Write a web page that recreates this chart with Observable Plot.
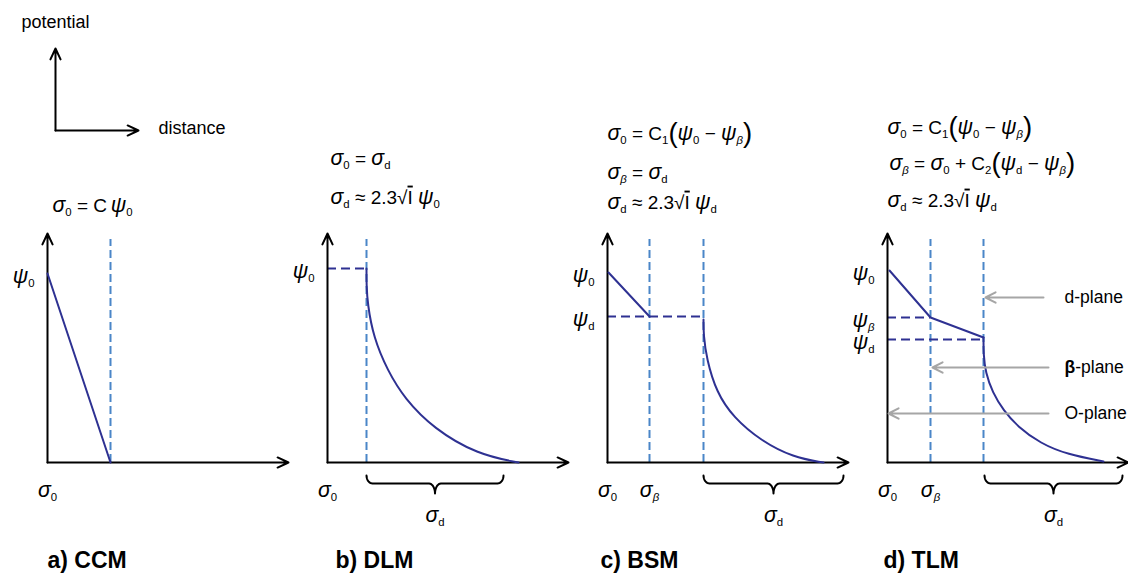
<!DOCTYPE html>
<html><head><meta charset="utf-8">
<script src="https://cdn.jsdelivr.net/npm/d3@7"></script>
<script src="https://cdn.jsdelivr.net/npm/@observablehq/plot@0.6"></script>
<style>body{margin:0;background:#fff}</style>
</head><body><div id="chart"></div>
<script>
// ---- panels ----
const panels = ["a", "b", "c", "d"];
const captions = ["a) CCM", "b) DLM", "c) BSM", "d) TLM"];

// ---- potential profiles: [distance, potential] ----
const ccmLine = [[0, 189], [63, 0]];
const dlmCurve = [[39, 194], [39, 178], [40, 159], [46, 125], [60, 92], [77, 64], [106, 34], [150, 8], [191, 0]];
const bsmLine = [[1, 190], [42, 146]];
const bsmCurve = [[96, 143], [96, 128], [99, 104], [109, 70], [126, 45], [153, 22], [186, 5], [216, 0]];
const tlmLine = [[2, 192], [43, 145], [96, 125]];
const tlmCurve = [[96, 125], [96, 108], [98, 90], [105, 70], [116, 52], [130, 36], [153, 19], [180, 8], [216, 1]];

// plane positions (distance) per panel
const planeA = [63];
const planeB = [39];
const planeC = [42, 96];
const planeD = [43, 96];

// potential levels (dashed)
const levelPanels = ["b", "c", "d", "d"];
const levelValues = [194, 146, 145, 123];
const levelReach = [39, 96, 43, 96];

// potential labels
const psiPanels = ["a", "b", "c", "c", "d", "d", "d"];
const psiLabels = ["ψ_0", "ψ_0", "ψ_0", "ψ_d", "ψ_0", "ψ_β", "ψ_d"];
const psiValues = [189, 194, 190, 146, 192, 145, 123];

// distance labels
const sigPanels = ["a", "b", "c", "c", "d", "d"];
const sigLabels = ["σ_0", "σ_0", "σ_0", "σ_β", "σ_0", "σ_β"];
const sigValues = [0, 0, 0, 42, 0, 43];

// diffuse layer braces [from, to]
const bracePanels = ["b", "c", "d"];
const braceFrom = [39, 96, 97];
const braceTo = [176, 236, 235];

// equations
const eqPanels = ["a", "b", "b", "c", "c", "c", "d", "d", "d"];
const eqTexts = [
  "σ_0 = C\u2009ψ_0",
  "σ_0 = σ_d",
  "σ_d ≈ 2.3√I ψ_0",
  "σ_0 = C_1(ψ_0 − ψ_β)",
  "σ_β = σ_d",
  "σ_d ≈ 2.3√I ψ_d",
  "σ_0 = C_1(ψ_0 − ψ_β)",
  "σ_β = σ_0 + C_2(ψ_d − ψ_β)",
  "σ_d ≈ 2.3√I ψ_d"
];
const eqX = [5, 3, 3, 0, 0, 0, 0, 2, 0];
const eqY = [257, 304, 265, 329, 290, 260, 335, 299, 262];

// TLM planes
const planeNames = ["d-plane", "^β-plane", "O-plane"];
const planeLevel = [165, 95, 49];
const planeArrowFrom = [156, 161, 161];
const planeArrowTo = [98, 45, 1];

// ---- build tables ----
const pts = (panel, seg, arr) => arr.map(([d, p]) => ({panel, seg, d, p}));
const straight = [...pts("a", "a", ccmLine), ...pts("c", "c", bsmLine), ...pts("d", "d", tlmLine)];
const curves = [...pts("b", "b", dlmCurve), ...pts("c", "c", bsmCurve), ...pts("d", "d", tlmCurve)];
const planes = [
  ...planeA.map(d => ({panel: "a", d})), ...planeB.map(d => ({panel: "b", d})),
  ...planeC.map(d => ({panel: "c", d})), ...planeD.map(d => ({panel: "d", d}))
];
const levels = levelPanels.map((panel, i) => ({panel, p: levelValues[i], reach: levelReach[i]}));
const psi = psiPanels.map((panel, i) => ({panel, s: psiLabels[i], p: psiValues[i]}));
const sig = sigPanels.map((panel, i) => ({panel, s: sigLabels[i], d: sigValues[i]}));
const eqs = eqPanels.map((panel, i) => ({panel, s: eqTexts[i], d: eqX[i], p: eqY[i]}));
const capX = [0, 8, -7, -4];
const caps = panels.map((panel, i) => ({panel, s: captions[i], d: capX[i]}));
const AX = 241, AY = 229;
const axes = panels.flatMap(panel => [
  {panel, x1: 0, y1: 0, x2: 0, y2: AY},
  {panel, x1: 0, y1: 0, x2: AX, y2: 0}
]);
const legendArrows = [
  {panel: "a", x1: 8, y1: 332, x2: 8, y2: 414},
  {panel: "a", x1: 8, y1: 332, x2: 91, y2: 332}
];
const legendText = [
  {panel: "a", s: "potential", d: -26, p: 440},
  {panel: "a", s: "distance", d: 111, p: 334}
];
const tlmPlanes = planeNames.map((s, i) => ({panel: "d", s, p: planeLevel[i], from: planeArrowFrom[i], to: planeArrowTo[i]}));

// brace glyph
function brace(panel, x1, x2) {
  const top = -13, mid = -21, tip = -31, r = 6, N = 8, xm = (x1 + x2) / 2, out = [];
  const arc = (cx, cy, rx, ry, a0, a1) => {
    for (let k = 0; k <= N; k++) {
      const t = a0 + (a1 - a0) * k / N;
      out.push({panel, seg: panel + x1, d: cx + rx * Math.cos(t), p: cy + ry * Math.sin(t)});
    }
  };
  arc(x1 + r, top, r, top - mid, Math.PI, 1.5 * Math.PI);
  arc(xm - r, tip, r, mid - tip, 0.5 * Math.PI, 0);
  arc(xm + r, tip, r, mid - tip, Math.PI, 0.5 * Math.PI);
  arc(x2 - r, top, r, top - mid, 1.5 * Math.PI, 2 * Math.PI);
  return out;
}
const braces = bracePanels.flatMap((panel, i) => brace(panel, braceFrom[i], braceTo[i]));
const braceLabels = bracePanels.map((panel, i) => ({panel, s: "σ_d", d: (braceFrom[i] + braceTo[i]) / 2}));

const NAVY = "#2e3192", BLUE = "#4a86c8", GRAY = "#a6a6a6";

const chart = Plot.plot({
  width: 1128, height: 573,
  marginTop: 0, marginBottom: 0, marginLeft: 0, marginRight: 8,
  fx: {domain: panels, padding: 0, axis: null},
  x: {domain: [-47, 233], axis: null},
  y: {domain: [-111, 462], axis: null},
  style: {fontFamily: "'Liberation Sans', Arial, sans-serif", background: "#fff", color: "#000"},
  marks: [
    Plot.ruleX(planes, {fx: "panel", x: "d", y1: 0, y2: 223, stroke: BLUE, strokeWidth: 2, strokeDasharray: "8,4"}),
    Plot.ruleY(levels, {fx: "panel", y: "p", x1: 0, x2: "reach", stroke: NAVY, strokeWidth: 1.8, strokeDasharray: "9,5"}),
    Plot.arrow(axes, {fx: "panel", x1: "x1", y1: "y1", x2: "x2", y2: "y2", stroke: "#000", strokeWidth: 2, headLength: 9, headAngle: 50}),
    Plot.arrow(legendArrows, {fx: "panel", x1: "x1", y1: "y1", x2: "x2", y2: "y2", stroke: "#000", strokeWidth: 2, headLength: 9, headAngle: 50}),
    Plot.line(straight, {fx: "panel", x: "d", y: "p", z: "seg", stroke: NAVY, strokeWidth: 2}),
    Plot.line(curves, {fx: "panel", x: "d", y: "p", z: "seg", stroke: NAVY, strokeWidth: 2, curve: "basis"}),
    Plot.line(braces, {fx: "panel", x: "d", y: "p", z: "seg", stroke: "#000", strokeWidth: 2}),
    Plot.arrow(tlmPlanes, {fx: "panel", x1: "from", x2: "to", y1: "p", y2: "p", stroke: GRAY, strokeWidth: 2, headLength: 8.5, headAngle: 55}),
    Plot.text(tlmPlanes, {fx: "panel", x: 177, y: "p", text: "s", textAnchor: "start", fontSize: 17.5}),
    Plot.text(legendText, {fx: "panel", x: "d", y: "p", text: "s", textAnchor: "start", fontSize: 18}),
    Plot.text(eqs, {fx: "panel", x: "d", y: "p", text: "s", textAnchor: "start", fontSize: 19}),
    Plot.text(psi, {fx: "panel", x: -13, y: d => d.p - 3, text: "s", textAnchor: "end", fontSize: 19}),
    Plot.text(sig, {fx: "panel", x: "d", y: -28, text: "s", textAnchor: "middle", fontSize: 19}),
    Plot.text(braceLabels, {fx: "panel", x: "d", y: -53, text: "s", textAnchor: "middle", fontSize: 19}),
    Plot.text(caps, {fx: "panel", x: "d", y: -98, text: "s", textAnchor: "start", fontSize: 23, fontWeight: "bold"})
  ]
});

// ---- rich text: subscripts, italic Greek, bold marker, big parentheses, radical bar ----
const greek = /[σψβ]/;
function rich(el) {
  const s = el.textContent;
  if (!/[_^√]/.test(s)) return;
  const toks = [];
  for (let i = 0; i < s.length;) {
    const c = s[i];
    if (c === "_") {
      let grp;
      if (s[i + 1] === "{") { const j = s.indexOf("}", i); grp = s.slice(i + 2, j); i = j + 1; }
      else { grp = s[i + 1]; i += 2; }
      for (const g of grp) toks.push({ch: g, sub: true, it: greek.test(g)});
    } else if (c === "^") {
      toks.push({ch: s[i + 1], bold: true}); i += 2;
    } else {
      toks.push({ch: c, it: greek.test(c), gk: greek.test(c), paren: c === "(" || c === ")", over: s[i - 1] === "√"}); i++;
    }
  }
  const groups = [];
  for (const t of toks) {
    const key = [t.sub, t.it, t.bold, t.paren, t.over, t.gk].map(Boolean).join();
    const last = groups[groups.length - 1];
    if (last && last.key === key && !t.paren) last.text += t.ch;
    else groups.push({...t, key, text: t.ch});
  }
  el.textContent = "";
  let shift = 0;
  for (const g of groups) {
    const scale = g.sub ? 0.6 : g.paren ? 1.45 : g.gk ? 1.12 : 1;
    const target = g.sub ? 0.25 : g.paren ? 0.12 : 0;
    const ts = document.createElementNS("http://www.w3.org/2000/svg", "tspan");
    if (scale !== 1) ts.setAttribute("font-size", `${scale * 100}%`);
    const dy = (target - shift) / scale;
    if (Math.abs(dy) > 1e-6) ts.setAttribute("dy", `${dy.toFixed(3)}em`);
    shift = target;
    if (g.it) ts.setAttribute("font-style", "italic");
    if (g.bold) ts.setAttribute("font-weight", "bold");
    if (g.over) ts.setAttribute("text-decoration", "overline");
    ts.textContent = g.text;
    el.appendChild(ts);
  }
}
chart.querySelectorAll("text").forEach(rich);
document.getElementById("chart").appendChild(chart);
</script>
</body></html>
